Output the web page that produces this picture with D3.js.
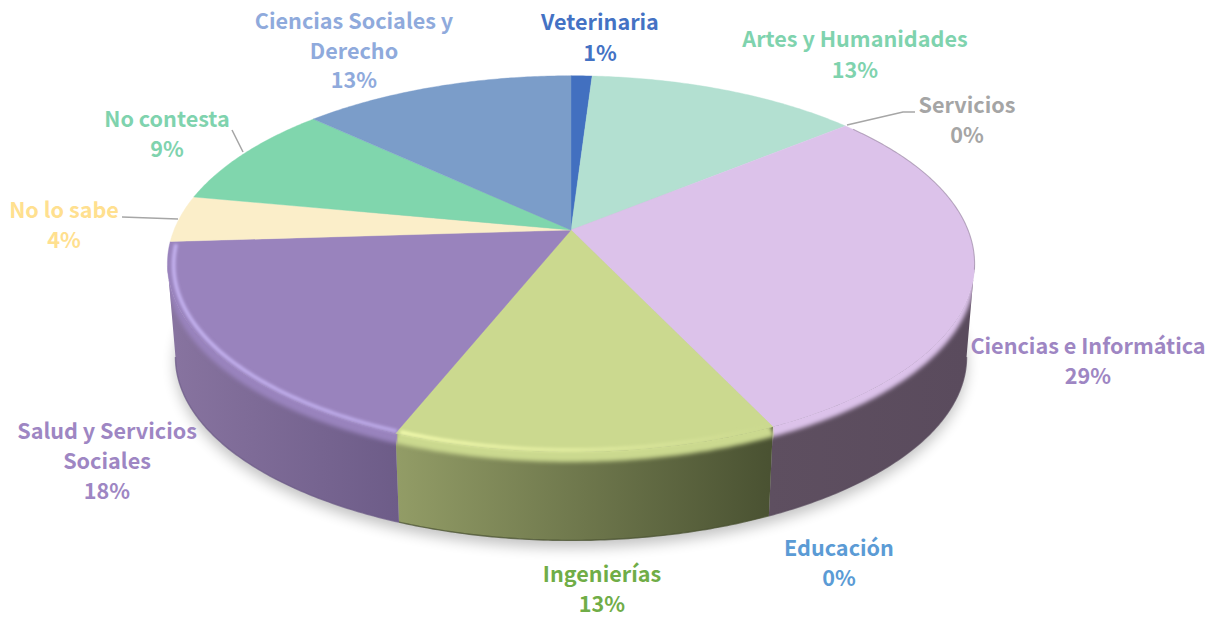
<!DOCTYPE html>
<html lang="es">
<head>
<meta charset="utf-8">
<script src="https://cdnjs.cloudflare.com/ajax/libs/d3/7.8.5/d3.min.js"></script>
<style>
html,body{margin:0;padding:0;background:#fff;overflow:hidden}
text{font-family:"Noto Sans CJK SC","Noto Sans",sans-serif;font-weight:700;font-size:21.6px;text-anchor:middle}
</style>
</head>
<body>
<svg id="chart" width="1217" height="617"></svg>
<script>
const categories = ["Veterinaria","Artes y Humanidades","Servicios","Ciencias e Informática","Educación","Ingenierías","Salud y Servicios Sociales","No lo sabe","No contesta","Ciencias Sociales y Derecho"];
const values = [1,13,0,29,0,13,18,4,9,13];
const labelLines = [["Veterinaria"],["Artes y Humanidades"],["Servicios"],["Ciencias e Informática"],["Educación"],["Ingenierías"],["Salud y Servicios","Sociales"],["No lo sabe"],["No contesta"],["Ciencias Sociales y","Derecho"]];
const topColors = ["#4270c0","#b3e0d1","#a5a5a5","#dcc2ea","#5b9bd5","#cbd98f","#9983bd","#fbeec9","#80d6ad","#7b9dc9"];
const labelColors = ["#4472c4","#7fd3ae","#a5a5a5","#9e86c3","#5b9bd5","#70ad47","#9e86c3","#ffe08f","#7fd3ae","#8faadc"];
const wallFrom = [null,null,null,"#5e4f60",null,"#929c66",  "#87739f",null,null,null];
const wallTo   = [null,null,null,"#5a4b5d",null,"#4a5232",  "#6d5c88",null,null,null];
const lightFrom= [null,null,null,null,null,"#f2faac","#c6b4f2",null,null,null];
const lightTo  = [null,null,null,null,null,"#cbd98f","#bcaae8",null,null,null];
const labelX = [600,855,967,1088,839,602,107,64,167,354];
const labelY = [22,39,105,346,548,574,431,210,119,21];
const labelGap = [31,31,30,30,30,30,30,30,30,29.5];
const leaderPaths = [[[847,125],[903,112],[915,112]],[[122,217],[178,219]],[[232,130],[243,152]]];

const persp = 0.18;
const xScale = d3.scaleLinear().domain([-1,1]).range([571-397,571+397]);
const yScale = d3.scaleLinear().domain([-1,1]).range([230-182,230+182]);
const lowerShrinkX = 0.98, lowerShrinkY = 0.975, lowerDrop = 94, bevelDrop = 10;

function P(a, r=1){
  const u = r*Math.sin(a), v = -r*Math.cos(a), d = 1 - persp*v;
  return [xScale(u/d), yScale(v/d)];
}
function L(a){
  const [x,y] = P(a);
  return [571+lowerShrinkX*(x-571), 230+lowerShrinkY*(y-230)+lowerDrop];
}
const B = a => { const [x,y]=P(a); return [x,y+bevelDrop]; };
const H2 = a => { const [x,y]=P(a,0.985); return [x,y+2]; };
const samples = (a0,a1) => { const n=Math.max(2,Math.ceil((a1-a0)/0.01)); return d3.range(n+1).map(i=>a0+(a1-a0)*i/n); };
const line = d3.line();
const closed = pts => line(pts)+"Z";

const arcs = d3.pie().sort(null).value((d,i)=>values[i]).startAngle(0).endAngle(2*Math.PI)(categories.map((c,i)=>i));
const fL = Math.PI*2 - Math.acos(-persp) , fR = Math.acos(-persp);

const svg = d3.select("#chart");
const defs = svg.append("defs");
const blur = (id,s)=>defs.append("filter").attr("id",id).attr("x","-10%").attr("y","-10%").attr("width","120%").attr("height","130%")
  .append("feGaussianBlur").attr("stdDeviation",s);
blur("b1",2); blur("b2",1.8); blur("rim",.6); blur("shadow",7);

// ground shadow
svg.append("path")
  .attr("d",closed(samples(0,2*Math.PI).map(a=>{const [x,y]=L(a);return [x,y+7];})))
  .attr("fill","#000").attr("opacity",.24).attr("filter","url(#shadow)");

// walls
const front = arcs.filter(d=>wallFrom[d.data]).map(d=>{
  return {i:d.data, a0:Math.max(d.startAngle,fR), a1:Math.min(d.endAngle,fL)};
});
front.forEach(f=>{
  const sm = samples(f.a0,f.a1);
  const outline = closed(sm.map(a=>P(a)).concat(sm.slice().reverse().map(a=>L(a))));
  const xs = sm.map(a=>L(a)[0]);
  const g = defs.append("linearGradient").attr("id","wall"+f.i).attr("gradientUnits","userSpaceOnUse")
    .attr("x1",d3.min(xs)).attr("x2",d3.max(xs)).attr("y1",0).attr("y2",0);
  g.append("stop").attr("offset",0).attr("stop-color",wallFrom[f.i]);
  g.append("stop").attr("offset",1).attr("stop-color",wallTo[f.i]);
  svg.append("path").attr("d",outline).attr("fill",`url(#wall${f.i})`);
  // dark bottom edge
  svg.append("path").attr("d",line(sm.map(a=>L(a)))).attr("fill","none")
    .attr("stroke",wallTo[f.i]).attr("stroke-opacity",.75).attr("stroke-width",1.4);
  const sc = samples(f.a0-0.004,f.a1+0.004);
  const cp = defs.append("clipPath").attr("id","clip"+f.i);
  cp.append("path").attr("d",closed(sc.map(a=>P(a)).concat(sc.slice().reverse().map(a=>L(a)))));
  const layer = svg.append("g").attr("clip-path",`url(#clip${f.i})`);
  // bevel band with soft edge
  const band = closed(sc.map(a=>P(a,0.97)).concat(sc.slice().reverse().map(a=>B(a))));
  layer.append("path").attr("d",band).attr("fill",topColors[f.i]).attr("filter","url(#b1)");
});

// top faces
arcs.forEach(d=>{
  if(d.endAngle-d.startAngle<=0) return;
  svg.append("path")
    .attr("d",closed([[xScale(0),yScale(0)]].concat(samples(d.startAngle,d.endAngle).map(a=>P(a)))))
    .attr("fill",topColors[d.data]).attr("stroke",topColors[d.data]).attr("stroke-width",.4);
});

// bevel highlights
arcs.filter(d=>lightFrom[d.data]).forEach(d=>{
  const i=d.data, sm=samples(d.startAngle+0.004,d.endAngle-0.004);
  const xs=sm.map(a=>H2(a)[0]);
  const g=defs.append("linearGradient").attr("id","light"+i).attr("gradientUnits","userSpaceOnUse")
    .attr("x1",d3.min(xs)).attr("x2",d3.max(xs)).attr("y1",0).attr("y2",0);
  g.append("stop").attr("offset",0).attr("stop-color",lightFrom[i]);
  g.append("stop").attr("offset",1).attr("stop-color",lightTo[i]);
  svg.append("path").attr("d",line(sm.map(a=>H2(a)))).attr("fill","none")
    .attr("stroke",`url(#light${i})`).attr("stroke-width",3.6).attr("filter","url(#b2)");
});

// soft dark rim on the back-right of the largest slice
const ci = arcs.find(d=>d.data===3);
svg.append("path").attr("d",line(samples(ci.startAngle+0.03,fR+0.03).map(a=>P(a)))).attr("fill","none")
  .attr("stroke","#7a6a80").attr("stroke-width",1.1).attr("stroke-opacity",.45).attr("filter","url(#rim)");

// leader lines
leaderPaths.forEach(p=>svg.append("path").attr("d",line(p)).attr("fill","none").attr("stroke","#a6a6a6").attr("stroke-width",1.6));

// labels
categories.forEach((c,i)=>{
  const lines = labelLines[i].concat([values[i]+"%"]);
  const t = svg.append("text").attr("fill",labelColors[i]);
  lines.forEach((s,k)=>t.append("tspan").attr("x",labelX[i]).attr("y",labelY[i]+8+k*labelGap[i]).text(s));
});
</script>
</body>
</html>
